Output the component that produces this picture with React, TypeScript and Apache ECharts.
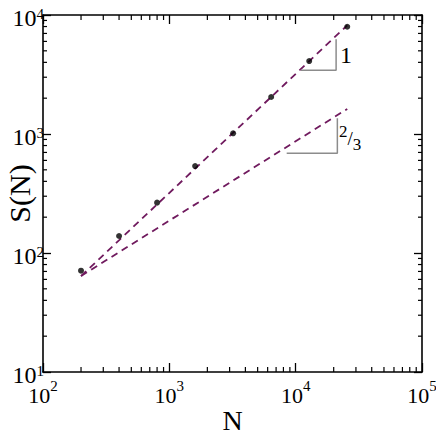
import React, { useEffect, useRef } from "react";
import * as echarts from "echarts";

// Data
const sizes = [200, 400, 800, 1600, 3200, 6400, 12800, 25600];
const sValues = [71, 139, 265, 538, 1014, 2046, 4100, 7970];

// Guide lines (slope 1 and slope 2/3), end points
const fit1N = [200, 25600];
const fit1S = [64, 8192];
const fit2N = [200, 25600];
const fit2S = [64, 1625];

// Slope triangles
const tri1N = [10970, 20900, 20900];
const tri1S = [3430, 3430, 6250];
const tri2N = [8490, 21380, 21380];
const tri2S = [689, 689, 1355];

// Axis ranges
const xDecades = [2, 3, 4];
const yDecades = [1, 2, 3];
const minorMultipliers = [2, 3, 4, 5, 6, 7, 8, 9];
const X_MIN = 100;
const X_MAX = 100000;
const Y_MIN = 10;
const Y_MAX = 10000;

const SERIF = "Liberation Serif";
const LINE_COLOR = "#701a5e";
const GUIDE_COLOR = "#8c8c8c";

const zip = (a: number[], b: number[]) => a.map((v, i) => [v, b[i]]);

export default function App() {
  const ref = useRef<HTMLDivElement>(null);

  useEffect(() => {
    if (!ref.current) return;
    const chart = echarts.init(ref.current, null, { renderer: "svg" });

    const minorData: number[][] = [];
    xDecades.forEach((d) =>
      minorMultipliers.forEach((m) => minorData.push([m * Math.pow(10, d), Y_MIN, 0]))
    );
    yDecades.forEach((d) =>
      minorMultipliers.forEach((m) => minorData.push([X_MIN, m * Math.pow(10, d), 1]))
    );

    const labelFmt = (v: number) => `{b|10}{s|${Math.round(Math.log10(v))}}`;

    const axisLine = { show: true, lineStyle: { color: "#000", width: 1.6 } };
    const tickStyle = { color: "#000", width: 1.3 };

    const option: any = {
      animation: false,
      backgroundColor: "#fff",
      textStyle: { fontFamily: SERIF, color: "#000" },
      grid: { left: 43, right: 14, top: 15, bottom: 64, containLabel: false, outerBoundsMode: "none" },
      xAxis: [
        {
          type: "log",
          logBase: 10,
          min: X_MIN,
          max: X_MAX,
          position: "bottom",
          axisLine,
          axisTick: { show: true, inside: true, length: 9, lineStyle: tickStyle },
          splitLine: { show: false },
          axisLabel: {
            formatter: labelFmt,
            margin: 6,
            fontFamily: SERIF,
            rich: {
              b: { fontFamily: SERIF, fontSize: 22, color: "#000", verticalAlign: "bottom", lineHeight: 28 },
              s: { fontFamily: SERIF, fontSize: 15, color: "#000", verticalAlign: "top", lineHeight: 15 },
            },
          },
          name: "N",
          nameLocation: "middle",
          nameGap: 34,
          nameMoveOverlap: false,
          nameTextStyle: { fontFamily: SERIF, fontSize: 28, color: "#000" },
        },
        {
          type: "log",
          logBase: 10,
          min: X_MIN,
          max: X_MAX,
          position: "top",
          axisLine,
          axisTick: { show: true, inside: true, length: 9, lineStyle: tickStyle },
          splitLine: { show: false },
          axisLabel: { show: false },
        },
      ],
      yAxis: [
        {
          type: "log",
          logBase: 10,
          min: Y_MIN,
          max: Y_MAX,
          position: "left",
          axisLine,
          axisTick: { show: true, inside: true, length: 8, lineStyle: tickStyle },
          splitLine: { show: false },
          axisLabel: {
            formatter: labelFmt,
            margin: -1,
            padding: [6, 0, 0, 0],
            fontFamily: SERIF,
            rich: {
              b: { fontFamily: SERIF, fontSize: 24, color: "#000", verticalAlign: "bottom", lineHeight: 24 },
              s: { fontFamily: SERIF, fontSize: 15, color: "#000", verticalAlign: "top", lineHeight: 15 },
            },
          },
          name: "S(N)",
          nameLocation: "middle",
          nameGap: 11,
          nameMoveOverlap: false,
          nameTextStyle: { fontFamily: SERIF, fontSize: 30, lineHeight: 26, color: "#000" },
        },
        {
          type: "log",
          logBase: 10,
          min: Y_MIN,
          max: Y_MAX,
          position: "right",
          axisLine,
          axisTick: { show: true, inside: true, length: 8, lineStyle: tickStyle },
          splitLine: { show: false },
          axisLabel: { show: false },
        },
      ],
      series: [
        {
          type: "custom",
          name: "minorTicks",
          silent: true,
          clip: false,
          data: minorData,
          renderItem: (params: any, api: any) => {
            const kind = api.value(2);
            const v = kind === 0 ? api.value(0) : api.value(1);
            const st = { stroke: "#000", lineWidth: 1.2 };
            if (kind === 0) {
              const pb = api.coord([v, Y_MIN]);
              const pt = api.coord([v, Y_MAX]);
              return {
                type: "group",
                children: [
                  { type: "line", shape: { x1: pb[0], y1: pb[1], x2: pb[0], y2: pb[1] - 5 }, style: st },
                  { type: "line", shape: { x1: pt[0], y1: pt[1], x2: pt[0], y2: pt[1] + 5 }, style: st },
                ],
              };
            }
            const pl = api.coord([X_MIN, v]);
            const pr = api.coord([X_MAX, v]);
            return {
              type: "group",
              children: [
                { type: "line", shape: { x1: pl[0], y1: pl[1], x2: pl[0] + 4, y2: pl[1] }, style: st },
                { type: "line", shape: { x1: pr[0], y1: pr[1], x2: pr[0] - 4, y2: pr[1] }, style: st },
              ],
            };
          },
        },
        {
          type: "line",
          name: "slope1",
          data: zip(fit1N, fit1S),
          showSymbol: false,
          symbol: "none",
          lineStyle: { color: LINE_COLOR, width: 1.8, type: [7, 5] },
          silent: true,
        },
        {
          type: "line",
          name: "slope23",
          data: zip(fit2N, fit2S),
          showSymbol: false,
          symbol: "none",
          lineStyle: { color: LINE_COLOR, width: 1.8, type: [7, 5] },
          silent: true,
        },
        {
          type: "line",
          name: "tri1",
          data: zip(tri1N, tri1S),
          symbol: "none",
          lineStyle: { color: GUIDE_COLOR, width: 1.5 },
          silent: true,
        },
        {
          type: "line",
          name: "tri2",
          data: zip(tri2N, tri2S),
          symbol: "none",
          lineStyle: { color: GUIDE_COLOR, width: 1.5 },
          silent: true,
        },
        {
          type: "scatter",
          name: "S(N)",
          data: zip(sizes, sValues),
          symbol: "circle",
          symbolSize: 6,
          itemStyle: { color: "#000" },
          z: 5,
        },
      ],
      graphic: [
        { type: "text", x: 346, y: 55, style: { text: "1", fontFamily: SERIF, fontSize: 24, fill: "#000", align: "center", verticalAlign: "middle" } },
        {
          type: "text",
          x: 339,
          y: 138,
          style: {
            text: "{a|2}{c|/}{d|3}",
            align: "left",
            verticalAlign: "middle",
            rich: {
              a: { fontFamily: SERIF, fontSize: 17, fill: "#000", verticalAlign: "top", lineHeight: 17 },
              c: { fontFamily: SERIF, fontSize: 19, fill: "#000", verticalAlign: "middle", lineHeight: 30 },
              d: { fontFamily: SERIF, fontSize: 17, fill: "#000", verticalAlign: "bottom", lineHeight: 17 },
            },
          },
        },
      ],
    };

    chart.setOption(option);
    return () => chart.dispose();
  }, []);

  return <div ref={ref} style={{ position: "fixed", left: 0, top: 0, width: 436, height: 436 }} />;
}
